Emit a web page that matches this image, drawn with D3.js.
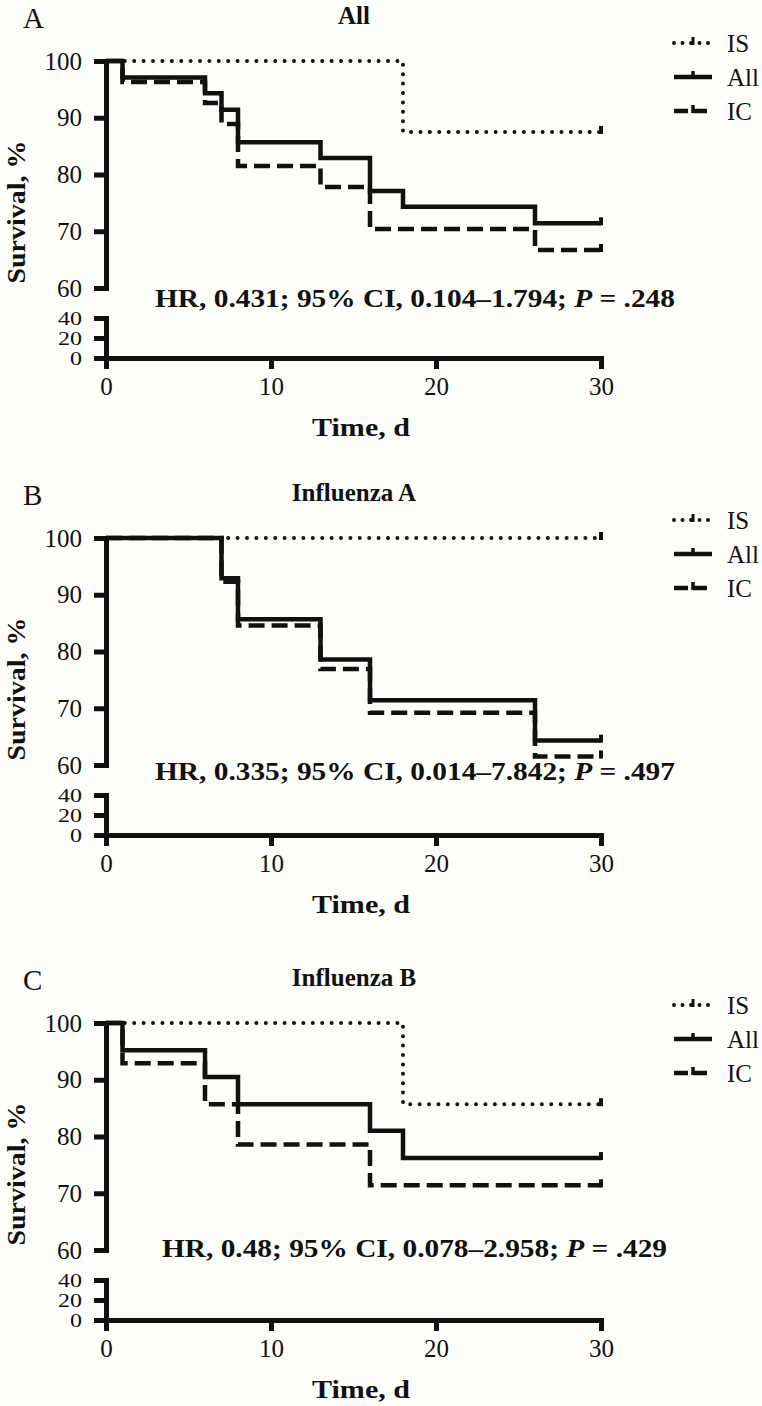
<!DOCTYPE html>
<html><head><meta charset="utf-8">
<script src="https://cdn.jsdelivr.net/npm/d3@7"></script>
<style>
html,body{margin:0;padding:0;background:#fdfdfa;}
svg{display:block;}
text{font-family:"Liberation Serif","Times New Roman",serif;fill:#111;}
</style></head>
<body>
<script>
// ---- data ----
const xTicks = [0, 10, 20, 30];
const yUpperTicks = [60, 70, 80, 90, 100];
const yLowerTicks = [0, 20, 40];
const panelLetters = ["A", "B", "C"];
const panelTitles = ["All", "Influenza A", "Influenza B"];
const seriesNames = ["IS", "All", "IC"];
const hrTexts = [
  ["HR, 0.431; 95% CI, 0.104\u20131.794; ", "P", " = .248"],
  ["HR, 0.335; 95% CI, 0.014\u20137.842; ", "P", " = .497"],
  ["HR, 0.48; 95% CI, 0.078\u20132.958; ", "P", " = .429"]
];
// Panel A (All)
const isA_t = [0, 18];            const isA_s = [100, 87.5];
const allA_t = [0, 1, 6, 7, 8, 13, 16, 18, 26];
const allA_s = [100, 97.1, 94.3, 91.4, 85.7, 82.9, 77.1, 74.3, 71.4];
const icA_t = [0, 1, 6, 7, 8, 13, 16, 26];
const icA_s = [100, 96.3, 92.6, 88.9, 81.5, 77.8, 70.4, 66.7];
// Panel B (Influenza A)
const isB_t = [0];                const isB_s = [100];
const allB_t = [0, 7, 8, 13, 16, 26];
const allB_s = [100, 92.9, 85.7, 78.6, 71.4, 64.3];
const icB_t = [0, 7, 8, 13, 16, 26];
const icB_s = [100, 92.3, 84.6, 76.9, 69.2, 61.5];
// Panel C (Influenza B)
const isC_t = [0, 18];            const isC_s = [100, 85.7];
const allC_t = [0, 1, 6, 8, 16, 18];
const allC_s = [100, 95.2, 90.5, 85.7, 81.0, 76.2];
const icC_t = [0, 1, 6, 8, 16];
const icC_s = [100, 92.9, 85.7, 78.6, 71.4];
const endTime = 30;

const panels = [
  {IS: [isA_t, isA_s], All: [allA_t, allA_s], IC: [icA_t, icA_s]},
  {IS: [isB_t, isB_s], All: [allB_t, allB_s], IC: [icB_t, icB_s]},
  {IS: [isC_t, isC_s], All: [allC_t, allC_s], IC: [icC_t, icC_s]}
];

// ---- layout ----
const W = 762, H = 1406;
const offsets = [0, 477, 962];
const hrPos = [[155, 307, 520], [155, 303, 520], [162, 295, 505]];
const styles = {
  IS: {dash: "0,9.4", cap: "round", w: 4},
  All: {dash: null, cap: "butt", w: 4.5},
  IC: {dash: "16,7", cap: "butt", w: 4.5}
};

const svg = d3.select("body").append("svg").attr("width", W).attr("height", H);

const x = d3.scaleLinear().domain([0, 30]).range([106, 601]);
const yU = d3.scaleLinear().domain([60, 100]).range([288, 61]);
const yL = d3.scaleLinear().domain([0, 40]).range([358, 318]);

function styleAxis(g, fs) {
  g.select(".domain").attr("stroke", "#111").attr("stroke-width", 5).attr("stroke-linecap", "square");
  g.selectAll(".tick line").attr("stroke", "#111").attr("stroke-width", 5);
  g.selectAll(".tick text").attr("font-size", fs).attr("font-family", "Liberation Serif").attr("fill", "#222");
}

panels.forEach((p, i) => {
  const g = svg.append("g").attr("transform", `translate(0,${offsets[i]})`);

  // letter + title
  g.append("text").attr("x", 23).attr("y", 28).attr("font-size", 29).text(panelLetters[i]);
  g.append("text").attr("x", 354).attr("y", 24).attr("text-anchor", "middle")
    .attr("font-size", 25).attr("font-weight", "bold").text(panelTitles[i]);

  // axes
  const ax1 = g.append("g").attr("transform", "translate(106,0)")
    .call(d3.axisLeft(yU).tickValues(yUpperTicks).tickSize(12).tickSizeOuter(0).tickPadding(12));
  styleAxis(ax1, 25);
  const ax2 = g.append("g").attr("transform", "translate(106,0)")
    .call(d3.axisLeft(yL).tickValues(yLowerTicks).tickSize(12).tickSizeOuter(0).tickPadding(12));
  styleAxis(ax2, 24);
  ax2.selectAll(".tick text").attr("transform", "scale(1,0.8)");
  const ax3 = g.append("g").attr("transform", "translate(0,358)")
    .call(d3.axisBottom(x).tickValues(xTicks).tickSize(11).tickSizeOuter(0).tickPadding(8));
  styleAxis(ax3, 25);

  // axis titles
  g.append("text").attr("x", 361).attr("y", 436).attr("text-anchor", "middle")
    .attr("font-size", 25).attr("font-weight", "bold").attr("textLength", 98)
    .attr("lengthAdjust", "spacingAndGlyphs").text("Time, d");
  g.append("text").attr("transform", "translate(25,212) rotate(-90)").attr("text-anchor", "middle")
    .attr("font-size", 25).attr("font-weight", "bold").attr("textLength", 143)
    .attr("lengthAdjust", "spacingAndGlyphs").text("Survival, %");

  // curves
  const line = d3.line().x(d => x(d[0])).y(d => yU(d[1])).curve(d3.curveStepAfter);
  ["IS", "IC", "All"].forEach(name => {
    const [t, s] = p[name];
    const pts = t.map((tt, k) => [tt, s[k]]);
    pts.push([endTime, s[s.length - 1]]);
    const st = styles[name];
    g.append("path").attr("d", line(pts)).attr("fill", "none").attr("stroke", "#111")
      .attr("stroke-width", st.w).attr("stroke-linecap", st.cap)
      .attr("stroke-dasharray", st.dash);
    // censor tick at end
    g.append("line").attr("x1", x(endTime)).attr("x2", x(endTime))
      .attr("y1", yU(s[s.length - 1]) + 2).attr("y2", yU(s[s.length - 1]) - 6)
      .attr("stroke", "#111").attr("stroke-width", 4);
  });

  // HR text
  const hp = hrPos[i];
  const ht = g.append("text").attr("x", hp[0]).attr("y", hp[1]).attr("font-size", 25)
    .attr("font-weight", "bold").attr("textLength", hp[2]).attr("lengthAdjust", "spacingAndGlyphs");
  ht.append("tspan").text(hrTexts[i][0]);
  ht.append("tspan").attr("font-style", "italic").text(hrTexts[i][1]);
  ht.append("tspan").text(hrTexts[i][2]);

  // legend
  seriesNames.forEach((name, k) => {
    const ly = 43 + k * 34;
    const st = styles[name];
    g.append("line").attr("x1", 674).attr("x2", 712).attr("y1", ly).attr("y2", ly)
      .attr("stroke", "#111").attr("stroke-width", st.w).attr("stroke-linecap", st.cap)
      .attr("stroke-dasharray", name === "IC" ? "14,5" : (name === "IS" ? "0,8.5" : null));
    g.append("line").attr("x1", 693).attr("x2", 693).attr("y1", ly + 2).attr("y2", ly - 6)
      .attr("stroke", "#111").attr("stroke-width", name === "IS" ? 3 : 3.5);
    g.append("text").attr("x", 727).attr("y", ly).attr("dy", "0.35em")
      .attr("font-size", 25).text(name);
  });
});
</script>
</body></html>
